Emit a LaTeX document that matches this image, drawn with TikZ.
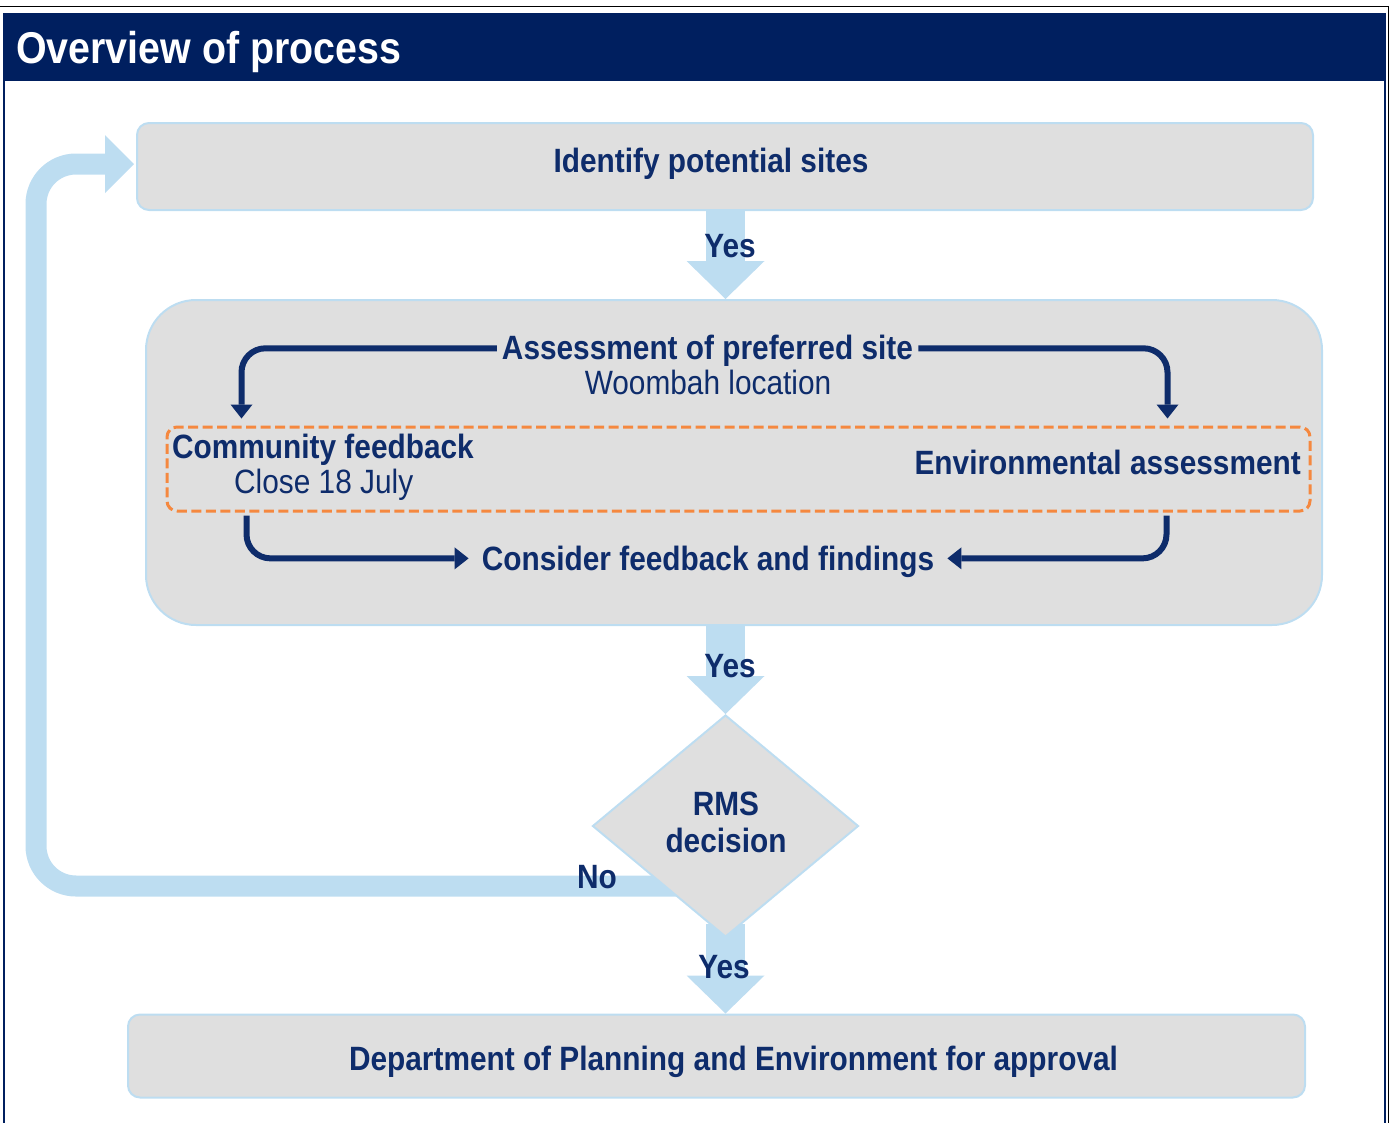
\documentclass[tikz,border=0pt]{standalone}
\usepackage{fontspec}
\setmainfont{Liberation Sans}[FakeStretch=0.885]
\usetikzlibrary{arrows.meta,shapes.geometric,calc,backgrounds}
\definecolor{navy}{HTML}{0E2C6B}
\definecolor{hdr}{HTML}{001F5F}
\definecolor{lb}{HTML}{BDDDF1}
\definecolor{gr}{HTML}{DFDFDF}
\definecolor{org}{HTML}{F5883F}
\begin{document}
\begin{tikzpicture}[x=1pt,y=-1pt,
  box/.style={draw=lb, line width=2pt, fill=gr, rounded corners=12pt, inner sep=0pt},
  bt/.style={text=navy, font=\fontsize{33.7}{36}\selectfont\bfseries, inner sep=0pt},
  rt/.style={text=navy, font=\fontsize{33.7}{36}\selectfont, inner sep=0pt},
  fat/.style={draw=lb, line width=39pt, -{Triangle[width=78pt,length=38pt,line width=0pt]}},
  loopband/.style={draw=lb, line width=21pt, rounded corners=40pt, -{Triangle[width=58pt,length=29pt,line width=0pt]}},
  nav/.style={draw=navy, line width=6pt, rounded corners=24pt, -{Triangle[width=22pt,length=14pt,line width=0pt]}}]
\useasboundingbox (0,0) rectangle (1392,1122);

% boxes
\node[box, minimum width=1176pt, minimum height=87pt] (b1) at (725,166.5) {};
\node[box, rounded corners=50pt, minimum width=1176pt, minimum height=325pt] (big) at (734,462.5) {};
\node[draw=org, line width=3pt, dash pattern=on 10pt off 4.5pt, rounded corners=10pt, minimum width=1143pt, minimum height=84pt, inner sep=0pt] (dash) at (738.5,469) {};
\node[diamond, draw=lb, fill=gr, line width=2pt, minimum width=266pt, minimum height=222pt, inner sep=0pt] (dec) at (725.5,826) {};
\node[box, minimum width=1177pt, minimum height=83pt] (b4) at (716.5,1056) {};

% header, frame and light-blue connectors
\begin{scope}[on background layer]
  \fill[hdr] (3,14) rectangle (1386,81);
  \draw[hdr, line width=2pt] (4,14) rectangle (1385,1135);
  \draw[black, line width=1.5pt] (0,6.5) -- (1388.5,6.5) -- (1388.5,1125);
  \draw[fat] (dec.north |- b1.south) -- (dec.north |- big.north);
  \draw[fat] (dec.north |- big.south) -- (dec.north);
  \draw[fat] ($(dec.south)+(0,-14)$) -- (dec.south |- b4.north);
  \coordinate (nostart) at (700,886);
  \draw[loopband] (nostart) -- (36,886) -- (36,164) -- ($(b1.west)+(-2,-2.5)$);
\end{scope}
\node[anchor=base west, text=white, font=\fontsize{44.5}{50}\selectfont\bfseries, inner sep=0pt] (title) at (16,63) {Overview of process};

% texts
\node[bt, anchor=base] (t1) at (711,172) {Identify potential sites};
\node[bt, anchor=base] (y1) at (730,257) {Yes};
\node[bt, anchor=base, inner xsep=5pt] (assess) at (707.5,359) {Assessment of preferred site};
\node[rt, anchor=base] (woom) at (708,394) {Woombah location};
\node[bt, anchor=base west] (comm) at (172,458) {Community feedback};
\node[rt, anchor=base west] (close) at (234,493) {Close 18 July};
\node[bt, anchor=base east] (env) at (1301,474) {Environmental assessment};
\node[bt, anchor=base, inner xsep=13pt] (cons) at (708,570) {Consider feedback and findings};
\node[bt, anchor=base] (y2) at (730,677) {Yes};
\node[bt, anchor=base] (rms) at (726,815) {RMS};
\node[bt, anchor=base] (decis) at (726,852) {decision};
\node[bt, anchor=base] (no) at (597,888) {No};
\node[bt, anchor=base] (y3) at (724,978) {Yes};
\node[bt, anchor=base] (t4) at (733.5,1070) {Department of Planning and Environment for approval};

% navy connectors
\draw[nav] ($(assess.west)+(0,-2)$) -| ($(dash.north west)+(76,-7)$);
\draw[nav] ($(assess.east)+(0,-2)$) -| ($(dash.north east)+(-144,-7)$);
\draw[nav] ($(dash.south west)+(81,3)$) |- ($(cons.west)+(0,-3)$);
\draw[nav] ($(dash.south east)+(-145,3)$) |- ($(cons.east)+(0,-3)$);
\end{tikzpicture}
\end{document}
